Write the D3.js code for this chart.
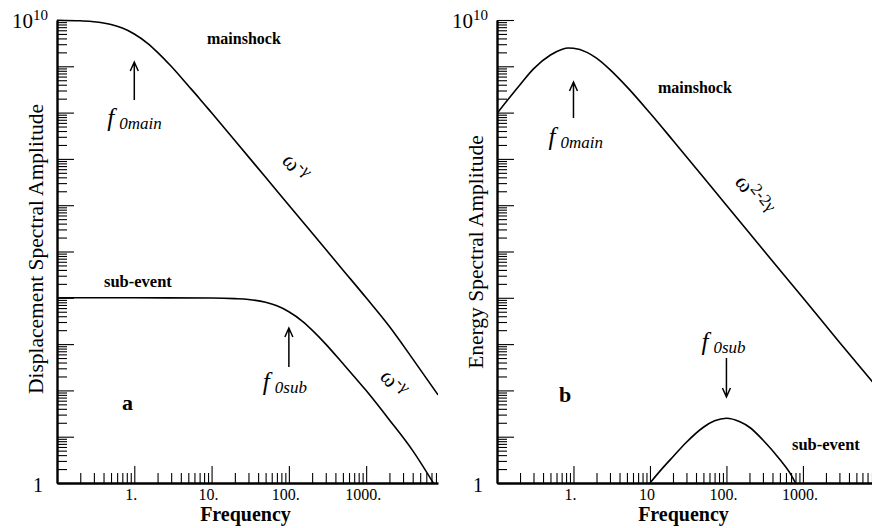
<!DOCTYPE html>
<html>
<head>
<meta charset="utf-8">
<script src="https://cdn.jsdelivr.net/npm/d3@7"></script>
<style>
  body { margin: 0; background: #fff; }
  svg { display: block; }
  text { font-family: "Liberation Serif", "DejaVu Serif", serif; fill: #000; }
</style>
</head>
<body>
<svg width="872" height="528"></svg>
<script>
// values (frequency, amplitude)
const freqMainA = [0.1, 0.2, 0.3, 0.5, 0.7, 1, 1.5, 2, 3, 5, 7, 10, 20, 50, 100, 200, 500, 1000, 2000, 4000, 8500];
const ampMainA = [9.9e9, 9.6e9, 9.2e9, 8.0e9, 6.7e9, 5.0e9, 3.1e9, 2.0e9, 1.0e9, 3.8e8, 2.0e8, 9.9e7, 2.5e7, 4.0e6, 1.0e6, 2.5e5, 4.0e4, 1.0e4, 2.4e3, 4.8e2, 8.0e1];

const freqSubA = [0.1, 1, 10, 20, 30, 50, 70, 100, 150, 200, 300, 500, 1000, 2000, 4000, 7400];
const ampSubA = [1e4, 1e4, 9.9e3, 9.6e3, 9.2e3, 8.0e3, 6.7e3, 5.0e3, 3.1e3, 2.0e3, 1.0e3, 3.8e2, 9.9e1, 2.3e1, 5.0, 1.0];

const freqMainB = [0.1, 0.2, 0.3, 0.5, 0.7, 0.85, 1, 1.5, 2, 3, 5, 10, 20, 50, 100, 300, 1000, 3000, 8500];
const ampMainB = [9.6e7, 4.0e8, 8.8e8, 1.75e9, 2.3e9, 2.48e9, 2.45e9, 2.0e9, 1.5e9, 8.5e8, 3.6e8, 9.8e7, 2.5e7, 4.0e6, 1.0e6, 1.1e5, 1.0e4, 1.1e3, 1.4e2];

const freqSubB = [10, 15, 20, 30, 50, 70, 100, 150, 200, 300, 500, 700, 800];
const ampSubB = [1.0, 2.2, 3.7, 7.6, 16, 22, 25, 21, 16, 8.5, 3.2, 1.5, 1.0];

const xMajorTicks = [1, 10, 100, 1000];
const xLabelsA = ["1.", "10.", "100.", "1000."];
const xLabelsB = ["1.", "10", "100.", "1000."];
const f0Main = 1;
const f0Sub = 100;

const svg = d3.select("svg");
const yTop = 20, yBot = 483;

function drawPanel(p) {
  const g = svg.append("g");
  const x = d3.scaleLog().domain([0.1, 8500]).range([p.x0, p.x1]);
  const y = d3.scaleLog().domain([1, 1e10]).range([yBot, yTop]);

  const clipId = "clip" + p.id;
  svg.append("clipPath").attr("id", clipId)
    .append("rect").attr("x", p.x0).attr("y", yTop - 2)
    .attr("width", p.x1 - p.x0).attr("height", yBot - yTop + 2);

  // minor / major ticks
  const yMinor = [], yMajor = [];
  for (let k = 0; k <= 10; k++) {
    yMajor.push(Math.pow(10, k));
    if (k < 10) for (let m = 2; m <= 9; m++) yMinor.push(m * Math.pow(10, k));
  }
  const xMinor = [];
  for (let k = -1; k <= 3; k++)
    for (let m = 2; m <= 9; m++) if (m * Math.pow(10, k) <= 8500) xMinor.push(m * Math.pow(10, k));

  g.append("g").attr("transform", `translate(${p.x0},0)`)
    .call(d3.axisRight(y).tickValues(yMinor).tickSize(10).tickSizeOuter(0).tickFormat(""))
    .call(a => a.select(".domain").attr("stroke-width", 2.4));
  g.append("g").attr("transform", `translate(${p.x0},0)`)
    .call(d3.axisRight(y).tickValues(yMajor).tickSize(17).tickSizeOuter(0).tickFormat(""))
    .call(a => a.select(".domain").remove());
  g.append("g").attr("transform", `translate(0,${yBot})`)
    .call(d3.axisTop(x).tickValues(xMinor).tickSize(10).tickSizeOuter(0).tickFormat(""))
    .call(a => a.select(".domain").attr("stroke-width", 2.4));
  g.append("g").attr("transform", `translate(0,${yBot})`)
    .call(d3.axisTop(x).tickValues(xMajorTicks).tickSize(17).tickSizeOuter(0).tickFormat(""))
    .call(a => a.select(".domain").remove());
  g.selectAll(".tick line").attr("stroke-width", 1.1);

  // tick labels
  g.selectAll(".xlab").data(xMajorTicks).enter().append("text")
    .attr("x", d => x(d) - 3).attr("y", 500)
    .attr("text-anchor", "middle").attr("font-size", 16)
    .text((d, i) => p.xLabels[i]);

  const top = g.append("text").attr("x", p.x0 - 45).attr("y", 28).attr("font-size", 21);
  top.append("tspan").text("10");
  top.append("tspan").attr("dy", -8).attr("font-size", 15).text("10");
  g.append("text").attr("x", p.x0 - 14).attr("y", 492).attr("text-anchor", "end")
    .attr("font-size", 20).text("1");

  // axis titles
  g.append("text").attr("x", (p.x0 + p.x1) / 2 - 2).attr("y", 521)
    .attr("text-anchor", "middle").attr("font-size", 20).attr("font-weight", "bold")
    .text("Frequency");
  g.append("text").attr("transform", `translate(${p.x0 - 14},${p.yTitleMid}) rotate(-90)`)
    .attr("text-anchor", "middle").attr("font-size", 21.5).text(p.yTitle);

  // curves
  const line = d3.line().x(d => x(d[0])).y(d => y(d[1])).curve(d3.curveMonotoneX);
  const curves = g.append("g").attr("clip-path", `url(#${clipId})`);
  [p.main, p.sub].forEach(s => {
    curves.append("path").datum(d3.zip(s[0], s[1]))
      .attr("d", line).attr("fill", "none").attr("stroke", "#000").attr("stroke-width", 1.6);
  });

  // labels
  g.append("text").attr("x", p.mainLab[0]).attr("y", p.mainLab[1])
    .attr("font-size", 16).attr("font-weight", "bold").text("mainshock");
  g.append("text").attr("x", p.subLab[0]).attr("y", p.subLab[1])
    .attr("font-size", 16.5).attr("font-weight", "bold").text("sub-event");
  g.append("text").attr("x", p.letter[0]).attr("y", p.letter[1])
    .attr("font-size", 22).attr("font-weight", "bold").text(p.id);

  // arrows
  p.arrows.forEach(a => {
    const ax = x(a.f);
    const tipY = a.up ? a.y0 : a.y1;
    const dir = a.up ? 1 : -1;
    g.append("path")
      .attr("d", `M${ax},${a.y0}L${ax},${a.y1}M${ax - 4},${tipY + dir * 9}L${ax},${tipY}L${ax + 4},${tipY + dir * 9}`)
      .attr("fill", "none").attr("stroke", "#000").attr("stroke-width", 1.5);
    const t = g.append("text").attr("x", ax + a.dx).attr("y", a.ty);
    t.append("tspan").attr("font-size", 25).attr("font-style", "italic").text("f");
    t.append("tspan").attr("dx", 5).attr("dy", 3).attr("font-size", 17)
      .attr("font-style", "italic").text(a.sub);
  });

  // slope labels
  p.slopes.forEach(s => {
    const t = g.append("text")
      .attr("transform", `translate(${s.x},${s.y}) rotate(${s.rot})`)
      .attr("text-anchor", "middle").attr("font-size", 23);
    t.append("tspan").text("ω");
    t.append("tspan").attr("dy", -8).attr("font-size", 17).text(s.exp);
  });
}

drawPanel({
  id: "a", x0: 57, x1: 438,
  xLabels: xLabelsA,
  yTitle: "Displacement Spectral Amplitude", yTitleMid: 249,
  main: [freqMainA, ampMainA], sub: [freqSubA, ampSubA],
  mainLab: [207, 44], subLab: [104, 287], letter: [122, 410],
  arrows: [
    { f: f0Main, y0: 62, y1: 100, up: true, dx: -27, ty: 126, sub: "0main" },
    { f: f0Sub, y0: 328, y1: 367, up: true, dx: -26, ty: 390, sub: "0sub" }
  ],
  slopes: [
    { x: 290, y: 172, rot: 50, exp: "-γ" },
    { x: 388, y: 388, rot: 50, exp: "-γ" }
  ]
});

drawPanel({
  id: "b", x0: 497, x1: 874,
  xLabels: xLabelsB,
  yTitle: "Energy Spectral Amplitude", yTitleMid: 252,
  main: [freqMainB, ampMainB], sub: [freqSubB, ampSubB],
  mainLab: [658, 93], subLab: [792, 450], letter: [559, 402],
  arrows: [
    { f: f0Main, y0: 82, y1: 118, up: true, dx: -25, ty: 145, sub: "0main" },
    { f: f0Sub, y0: 358, y1: 397, up: false, dx: -25, ty: 350, sub: "0sub" }
  ],
  slopes: [
    { x: 748, y: 200, rot: 52, exp: "2-2γ" }
  ]
});
</script>
</body>
</html>
